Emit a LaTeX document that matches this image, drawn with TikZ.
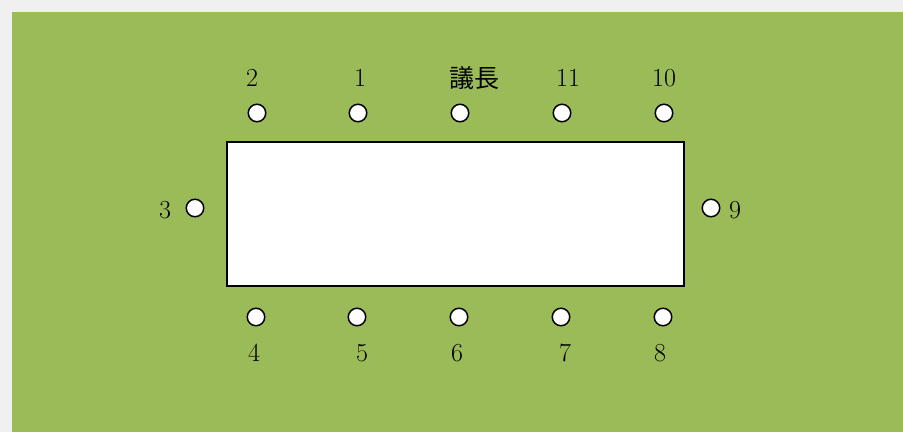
\documentclass[tikz,border=0pt]{standalone}
\usepackage{fontspec}
\newfontfamily\cjk{Noto Sans CJK JP}
\definecolor{bgGreen}{HTML}{9BBB59}
\definecolor{bgGray}{HTML}{F0F0F0}
\begin{document}
\begin{tikzpicture}[x=1pt,y=-1pt,
  seat/.style={circle,draw=black,fill=white,line width=1.5pt,minimum size=17.5pt,inner sep=0pt},
  lbl/.style={inner sep=0pt,font=\fontsize{26}{30}\selectfont},
  table/.style={draw=black,fill=white,line width=1.4pt}]
\useasboundingbox (0,0) rectangle (903,432);
\fill[bgGray] (0,0) rectangle (903,432);
\fill[bgGreen] (12,12) rectangle (903,432);
\node[table,minimum width=457pt,minimum height=144pt,inner sep=0pt] (tbl) at (455.5,214) {};
% top row
\node[seat] (s2) at (257,113) {};
\node[seat] (s1) at (358,113) {};
\node[seat] (sc) at (460,113) {};
\node[seat] (s11) at (562,113) {};
\node[seat] (s10) at (664,113) {};
% bottom row
\node[seat] (s4) at (256,317) {};
\node[seat] (s5) at (357,317) {};
\node[seat] (s6) at (459,317) {};
\node[seat] (s7) at (561,317) {};
\node[seat] (s8) at (663,317) {};
% sides
\node[seat] (s3) at (195,208) {};
\node[seat] (s9) at (711,208) {};
% labels
\node[lbl] (l2) at (252,78) {2};
\node[lbl] (l1) at (360,78) {1};
\node[lbl] (lc) at (474,78) {\cjk\fontsize{25}{30}\selectfont 議長};
\node[lbl] (l11) at (568,78) {11};
\node[lbl] (l10) at (664,78) {10};
\node[lbl] (l4) at (254,353) {4};
\node[lbl] (l5) at (362,353) {5};
\node[lbl] (l6) at (457,353) {6};
\node[lbl] (l7) at (565,353) {7};
\node[lbl] (l8) at (660,353) {8};
\node[lbl] (l3) at (165,210) {3};
\node[lbl] (l9) at (735,210) {9};
\end{tikzpicture}
\end{document}
